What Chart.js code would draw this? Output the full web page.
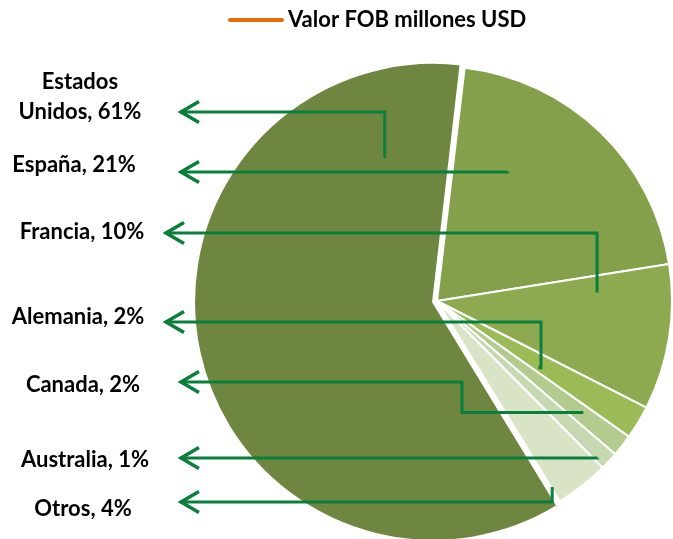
<!DOCTYPE html>
<html><head><meta charset="utf-8">
<script src="https://cdn.jsdelivr.net/npm/chart.js@4"></script>
<style>html,body{margin:0;padding:0;background:#fff;overflow:hidden}#wrap{width:673px;height:539px;position:relative}</style>
</head><body><div id="wrap"><canvas id="c" width="673" height="539"></canvas></div>
<script>
// ---- data ----
const categories = ['Estados Unidos', 'España', 'Francia', 'Alemania', 'Canada', 'Australia', 'Otros'];
const values = [60.6, 20.6, 10.0, 2.3, 1.5, 1.25, 3.7];
const seriesName = 'Valor FOB millones USD';

// ---- style ----
const sliceColors = ['#6E863F', '#85A04B', '#8DAA51', '#9BBB57', '#B3CB8E', '#C6D8AF', '#D9E4C7'];
const sliceOffsets = [16, 0, 0, 0, 0, 0, 0];
const FONT = 'bold 22px Lato, "Open Sans", sans-serif';
const GREEN = '#0A7F3C';
// label layout: text centre, arrow tip x, line y, elbow x, anchor as (fraction within slice angle, fraction of radius)
const labelLayout = [
  {cx: 80, cy: 82,  tip: 180, ly: 112, elbow: null, t: 0.877, r: 0.648},
  {cx: 74, cy: 165, tip: 180, ly: 172, elbow: null, t: 0.296, r: 0.627},
  {cx: 82, cy: 232, tip: 165, ly: 233, elbow: null, t: 0.166, r: 0.682},
  {cx: 78, cy: 317, tip: 165, ly: 322, elbow: 541,  t: 0.77,  r: 0.516},
  {cx: 83, cy: 385, tip: 180, ly: 382, elbow: 462,  t: 0.38,  r: 0.783},
  {cx: 85, cy: 460, tip: 180, ly: 458, elbow: null, t: 0.82,  r: 0.954},
  {cx: 83, cy: 509, tip: 180, ly: 502, elbow: null, t: 0.98,  r: 0.931}
];

const total = values.reduce((a, b) => a + b, 0);

function wrapText(ctx, text, maxW) {
  const words = text.split(' ');
  const lines = [];
  let cur = '';
  for (const w of words) {
    const test = cur ? cur + ' ' + w : w;
    if (ctx.measureText(test).width > maxW && cur) { lines.push(cur); cur = w; }
    else cur = test;
  }
  if (cur) lines.push(cur);
  return lines;
}

const annotate = {
  id: 'annotate',
  afterDraw(chart) {
    const ctx = chart.ctx;
    const meta = chart.getDatasetMeta(0);
    ctx.save();
    // legend
    ctx.strokeStyle = '#E46C0A';
    ctx.lineWidth = 4;
    ctx.lineCap = 'round';
    ctx.beginPath(); ctx.moveTo(230, 20); ctx.lineTo(282, 20); ctx.stroke();
    ctx.font = FONT;
    ctx.fillStyle = '#000';
    ctx.textBaseline = 'middle';
    ctx.textAlign = 'left';
    ctx.fillText(seriesName, 288, 20);

    // leader lines
    meta.data.forEach((arc, i) => {
      const L = labelLayout[i];
      const p = arc.getProps(['x', 'y', 'startAngle', 'endAngle', 'outerRadius'], true);
      const th = p.startAngle + L.t * (p.endAngle - p.startAngle);
      const ax = p.x + Math.cos(th) * p.outerRadius * L.r;
      const ay = p.y + Math.sin(th) * p.outerRadius * L.r;
      const ex = L.elbow !== null ? L.elbow : ax;
      ctx.strokeStyle = GREEN;
      ctx.lineWidth = 3;
      ctx.lineCap = 'butt';
      ctx.lineJoin = 'miter';
      ctx.beginPath();
      ctx.moveTo(L.tip, L.ly);
      ctx.lineTo(ex, L.ly);
      ctx.lineTo(ex, ay);
      ctx.lineTo(ax, ay);
      ctx.stroke();
      // arrow head
      ctx.lineWidth = 3.5;
      ctx.beginPath();
      ctx.moveTo(L.tip + 19, L.ly - 10.5);
      ctx.lineTo(L.tip + 1, L.ly);
      ctx.lineTo(L.tip + 19, L.ly + 10.5);
      ctx.stroke();
      // label text
      const pct = Math.round(values[i] / total * 100);
      const txt = categories[i] + ', ' + pct + '%';
      ctx.font = FONT;
      ctx.fillStyle = '#000';
      ctx.textAlign = 'center';
      ctx.textBaseline = 'middle';
      const lines = wrapText(ctx, txt, 140);
      const lh = 30;
      lines.forEach((ln, k) => {
        ctx.fillText(ln, L.cx, L.cy + k * lh);
      });
    });
    ctx.restore();
  }
};

new Chart(document.getElementById('c'), {
  type: 'pie',
  data: {
    labels: categories,
    datasets: [{
      label: seriesName,
      data: values,
      backgroundColor: sliceColors,
      borderColor: '#FFFFFF',
      borderWidth: 2,
      offset: sliceOffsets
    }]
  },
  options: {
    responsive: false,
    animation: false,
    events: [],
    rotation: 148.5,
    radius: 235,
    layout: {padding: {left: 202, right: 1, top: 66, bottom: 3}},
    plugins: {legend: {display: false}, tooltip: {enabled: false}, title: {display: false}}
  },
  plugins: [annotate]
});
</script>
</body></html>
